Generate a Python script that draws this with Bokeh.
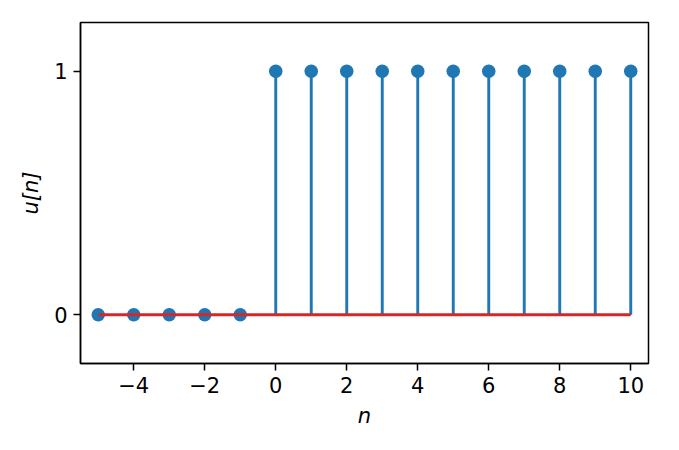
import numpy as np
from bokeh.plotting import figure
from bokeh.models import FixedTicker, Range1d
from bokeh.embed import file_html
from bokeh.resources import INLINE

n = [-5, -4, -3, -2, -1, 0, 1, 2, 3, 4, 5, 6, 7, 8, 9, 10]
u = [0, 0, 0, 0, 0, 1, 1, 1, 1, 1, 1, 1, 1, 1, 1, 1]
x_ticks = [-4, -2, 0, 2, 4, 6, 8, 10]
y_ticks = [0, 1]

BLUE = "#1f77b4"
RED = "#d62728"
FONT = "DejaVu Sans"

p = figure(width=671, height=442, output_backend="svg", toolbar_location=None,
           x_range=Range1d(-5.5, 10.5), y_range=Range1d(-0.2, 1.2),
           min_border_left=80, min_border_right=23, min_border_top=22, min_border_bottom=79)
p.frame_width = 568
p.frame_height = 341

p.segment(x0=n, y0=[0] * len(n), x1=n, y1=u, line_color=BLUE, line_width=2.9)
p.scatter(n, u, size=13.5, fill_color=BLUE, line_color=BLUE, line_width=0)
p.line([min(n), max(n)], [0, 0], line_color=RED, line_width=2.9)

p.xgrid.visible = False
p.ygrid.visible = False
p.outline_line_color = "black"
p.outline_line_width = 1.5
p.outline_line_alpha = 1

for ax in (p.xaxis, p.yaxis):
    ax.axis_line_color = "black"
    ax.axis_line_width = 1.5
    ax.major_tick_line_color = "black"
    ax.major_tick_line_width = 1.5
    ax.major_tick_out = 7
    ax.major_tick_in = 0
    ax.minor_tick_line_color = None
    ax.major_label_text_font = FONT
    ax.major_label_text_font_size = "21px"
    ax.major_label_text_color = "black"
    ax.major_label_standoff = 6
    ax.axis_label_text_font = FONT
    ax.axis_label_text_font_size = "21px"
    ax.axis_label_text_font_style = "italic"
    ax.axis_label_text_color = "black"

p.xaxis.ticker = FixedTicker(ticks=x_ticks)
p.yaxis.ticker = FixedTicker(ticks=y_ticks)
p.xaxis.major_label_overrides = {t: (str(t).replace("-", "\u2212")) for t in x_ticks}
p.yaxis.major_label_overrides = {t: str(t) for t in y_ticks}
p.xaxis.axis_label = "n"
p.yaxis.axis_label = "u[n]"
p.xaxis.axis_label_standoff = 8
p.yaxis.axis_label_standoff = 8

open("out.html", "w").write(file_html(p, INLINE))
